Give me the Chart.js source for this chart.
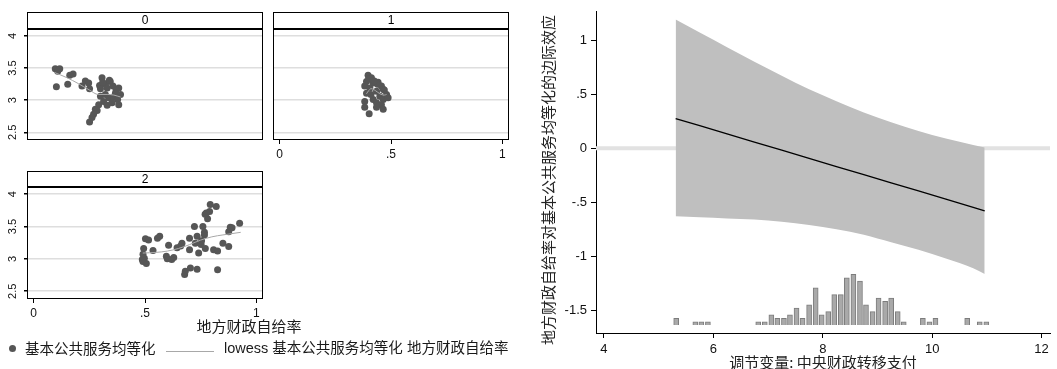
<!DOCTYPE html>
<html>
<head>
<meta charset="utf-8">
<script src="https://cdn.jsdelivr.net/npm/chart.js@4.4.1/dist/chart.umd.min.js"></script>
<style>
  html, body { margin: 0; padding: 0; background: #fff; }
  #wrap { position: relative; width: 1057px; height: 369px; overflow: hidden; }
  canvas { position: absolute; }
  .txt { position: absolute; white-space: nowrap; color: #1a1a1a;
         font-family: "Liberation Sans", "Noto Sans CJK SC", sans-serif; }
</style>
</head>
<body>
<div id="wrap">
  <canvas id="p0" width="268" height="150" style="left:0;top:0"></canvas>
  <canvas id="p1" width="246" height="166" style="left:268px;top:0"></canvas>
  <canvas id="p2" width="268" height="160" style="left:0;top:160px"></canvas>
  <canvas id="me" width="527" height="369" style="left:530px;top:0"></canvas>
</div>
<script>
// ---------- scatter panels: 地方财政自给率 vs 基本公共服务均等化, by group ----------
const panelLabels = ['0', '1', '2'];
const panelYTicks = [2.5, 3, 3.5, 4];
const panelXTicks = [0, 0.5, 1];
const scatterXTitle = '地方财政自给率';
const legendPoint = '基本公共服务均等化';
const legendLowess = 'lowess 基本公共服务均等化 地方财政自给率';

const g0x = [0.097,0.117,0.108,0.102,0.153,0.162,0.177,0.217,0.232,0.247,0.251,0.307,0.296,0.300,0.322,0.344,0.330,0.356,0.382,0.370,
             0.300,0.322,0.337,0.360,0.377,0.382,0.314,0.330,0.292,0.277,0.285,0.269,0.262,0.251,0.352,0.367,0.390,0.110,0.340,0.310];
const g0y = [3.49,3.49,3.45,3.21,3.25,3.39,3.41,3.22,3.30,3.27,3.18,3.35,3.23,3.18,3.25,3.29,3.19,3.22,3.19,3.16,
             3.06,3.09,3.04,3.05,3.01,2.93,2.98,2.92,2.93,2.86,2.84,2.78,2.73,2.66,2.96,3.11,3.09,3.47,3.31,3.28];
const g1x = [0.397,0.412,0.390,0.420,0.442,0.382,0.405,0.457,0.465,0.435,0.390,0.480,0.450,0.420,0.465,0.487,0.382,0.435,0.457,0.382,
             0.465,0.435,0.402,0.440,0.470,0.410,0.400,0.425];
const g1y = [3.39,3.35,3.29,3.27,3.28,3.22,3.19,3.22,3.17,3.14,3.11,3.09,3.06,3.01,3.01,3.04,2.98,2.96,2.93,2.89,
             2.86,2.89,2.79,3.25,3.16,3.09,3.33,3.30];
const g2x = [0.793,0.820,0.790,0.775,0.781,0.770,0.722,0.760,0.767,0.767,0.883,0.925,0.876,0.502,0.516,0.566,0.556,0.494,0.536,0.491,
             0.497,0.491,0.506,0.488,0.606,0.596,0.600,0.629,0.620,0.644,0.666,0.660,0.700,0.734,0.700,0.726,0.752,0.741,0.771,0.754,
             0.808,0.826,0.850,0.876,0.678,0.681,0.704,0.734,0.826,0.891];
const g2y = [3.84,3.81,3.73,3.71,3.62,3.69,3.50,3.50,3.41,3.37,3.49,3.55,3.42,3.31,3.29,3.35,3.32,3.16,3.13,3.07,
             3.01,2.96,2.93,2.99,3.21,3.04,3.00,3.02,2.99,3.17,3.24,3.20,3.32,3.35,3.14,3.24,3.22,3.09,3.16,3.28,
             3.14,3.12,3.24,3.19,2.76,2.81,2.86,2.84,2.83,3.48];

// lowess smooth per group
const l0x = [0.095,0.15,0.20,0.25,0.29,0.33,0.36,0.39];
const l0y = [3.43,3.35,3.26,3.16,3.09,3.09,3.08,3.05];
const l1x = [0.39,0.40,0.41,0.43,0.45,0.47,0.48];
const l1y = [3.10,3.15,3.18,3.15,3.10,3.08,3.09];
const l2x = [0.49,0.55,0.60,0.65,0.70,0.75,0.80,0.85,0.93];
const l2y = [3.09,3.10,3.12,3.16,3.22,3.29,3.34,3.37,3.41];

// ---------- marginal effect of 地方财政自给率 over 中央财政转移支付 ----------
const meYTitle = '地方财政自给率对基本公共服务均等化的边际效应';
const meXTitle = '调节变量: 中央财政转移支付';
const meXTicks = [4, 6, 8, 10, 12];
const meYTicks = [1, 0.5, 0, -0.5, -1, -1.5];
const meX     = [5.31, 5.75, 6.25, 6.75, 7.25, 7.75, 8.25, 8.75, 9.25, 9.75, 10.25, 10.75, 10.96];
const meLine  = [0.274, 0.208, 0.132, 0.057, -0.019, -0.094, -0.170, -0.245, -0.321, -0.396, -0.472, -0.547, -0.579];
const meUpper = [1.19, 1.07, 0.935, 0.80, 0.67, 0.545, 0.435, 0.33, 0.24, 0.16, 0.09, 0.03, 0.006];
const meLower = [-0.63, -0.64, -0.65, -0.66, -0.68, -0.71, -0.75, -0.80, -0.87, -0.94, -1.02, -1.11, -1.165];
// distribution of the moderator (counts per bin)
const histX = [5.32,5.67,5.78,5.90,6.82,6.94,7.06,7.17,7.29,7.40,7.52,7.63,7.75,7.87,7.98,8.10,8.21,
               8.33,8.44,8.56,8.68,8.79,8.91,9.02,9.14,9.25,9.37,9.48,9.83,9.95,10.06,10.64,10.87,10.99];
const histN = [2,1,1,1,1,1,3,2,2,3,5,2,6,11,3,4,9,9,14,15,13,6,4,8,7,8,4,1,2,1,2,2,1,1];

const LATIN = '"Liberation Sans", Arial, sans-serif';
const CJK = '"Noto Sans CJK SC", "Liberation Sans", sans-serif';
const fmt = v => String(+Number(v).toFixed(2)).replace(/^(-?)0\./, '$1.');
const pts = (xs, ys) => xs.map((x, i) => ({ x, y: ys[i] }));

// panel frame + strip header
const panelFrame = {
  id: 'panelFrame',
  afterDraw(chart, args, opts) {
    if (!opts || !opts.label) return;
    const { ctx, chartArea: a } = chart;
    const hTop = a.top - opts.header;
    ctx.save();
    ctx.strokeStyle = '#000';
    ctx.lineWidth = 1;
    ctx.strokeRect(Math.round(a.left) + 0.5, Math.round(hTop) + 0.5,
                   Math.round(a.right - a.left) - 1, Math.round(a.bottom - hTop) - 1);
    ctx.lineWidth = 2;
    ctx.beginPath();
    ctx.moveTo(a.left, Math.round(a.top));
    ctx.lineTo(a.right, Math.round(a.top));
    ctx.stroke();
    ctx.fillStyle = '#000';
    ctx.font = '12px ' + LATIN;
    ctx.textAlign = 'center';
    ctx.textBaseline = 'middle';
    ctx.fillText(opts.label, (a.left + a.right) / 2, hTop + opts.header / 2 + 0.5);
    ctx.restore();
  }
};

function panel(id, idx, px, py, lx, ly, cfg) {
  new Chart(document.getElementById(id), {
    type: 'scatter',
    data: {
      datasets: [
        { data: pts(lx, ly), showLine: true, borderColor: '#a8a8a8', borderWidth: 1,
          pointRadius: 0, cubicInterpolationMode: 'monotone', fill: false },
        { data: pts(px, py), pointRadius: 3.5, pointBackgroundColor: '#565656',
          pointBorderWidth: 0, showLine: false }
      ]
    },
    options: {
      responsive: false, animation: false, devicePixelRatio: 1,
      layout: { padding: { top: cfg.padTop, right: 5, bottom: cfg.padBottom, left: 0 } },
      plugins: { legend: { display: false }, tooltip: { enabled: false },
                 panelFrame: { label: panelLabels[idx], header: cfg.header } },
      scales: {
        x: {
          type: 'linear', min: -0.03, max: 1.03, display: cfg.showX,
          afterBuildTicks: s => { s.ticks = panelXTicks.map(v => ({ value: v })); },
          afterFit: s => { s.height = cfg.xh; },
          ticks: { callback: fmt, font: { size: 12, family: LATIN }, color: '#111', padding: 3,
                   maxRotation: 0, minRotation: 0 },
          grid: { display: true, drawOnChartArea: false, drawTicks: true, tickLength: 4, tickColor: '#000' },
          border: { display: false }
        },
        y: {
          min: 2.38, max: 4.11,
          afterBuildTicks: s => { s.ticks = panelYTicks.map(v => ({ value: v })); },
          afterFit: s => { s.width = cfg.yw; },
          ticks: { display: cfg.showYLabels, minRotation: 90, maxRotation: 90, crossAlign: 'center',
                   padding: 3, font: { size: 11, family: LATIN }, color: '#111', callback: fmt },
          grid: { color: '#dedede', lineWidth: 1.5, drawTicks: cfg.showYLabels, tickLength: 3, tickColor: '#000' },
          border: { display: false }
        }
      }
    },
    plugins: [panelFrame]
  });
}

panel('p0', 0, g0x, g0y, l0x, l0y, { padTop: 29, padBottom: 10, header: 17, showX: false, xh: 0, yw: 27, showYLabels: true });
panel('p1', 1, g1x, g1y, l1x, l1y, { padTop: 29, padBottom: 0, header: 17, showX: true, xh: 26, yw: 5, showYLabels: false });
panel('p2', 2, g2x, g2y, l2x, l2y, { padTop: 27, padBottom: 0, header: 16, showX: true, xh: 21, yw: 27, showYLabels: true });

// reference line at zero, under everything else
const zeroLine = {
  id: 'zeroLine',
  beforeDatasetsDraw(chart) {
    const { ctx, chartArea: a, scales: { y } } = chart;
    const yp = y.getPixelForValue(0);
    ctx.save();
    ctx.strokeStyle = '#e2e2e2';
    ctx.lineWidth = 4;
    ctx.beginPath();
    ctx.moveTo(a.left, yp);
    ctx.lineTo(a.right, yp);
    ctx.stroke();
    ctx.restore();
  }
};

new Chart(document.getElementById('me'), {
  type: 'line',
  data: {
    datasets: [
      { data: pts(meX, meLine), borderColor: '#000', borderWidth: 1.3, pointRadius: 0, fill: false },
      { type: 'bar', data: pts(histX, histN), yAxisID: 'yh', backgroundColor: '#a9a9a9',
        borderColor: '#7c7c7c', borderWidth: 1, barThickness: 5 },
      { data: pts(meX, meUpper), borderColor: 'rgba(0,0,0,0)', borderWidth: 0, pointRadius: 0,
        fill: '+1', backgroundColor: '#bfbfbf', cubicInterpolationMode: 'monotone' },
      { data: pts(meX, meLower), borderColor: 'rgba(0,0,0,0)', borderWidth: 0, pointRadius: 0,
        fill: false, cubicInterpolationMode: 'monotone' }
    ]
  },
  options: {
    responsive: false, animation: false, devicePixelRatio: 1,
    layout: { padding: { top: 8, right: 7, bottom: 0, left: 0 } },
    plugins: { legend: { display: false }, tooltip: { enabled: false } },
    scales: {
      x: {
        type: 'linear', min: 3.854, max: 12.154, offset: false,
        afterBuildTicks: s => { s.ticks = meXTicks.map(v => ({ value: v })); },
        afterFit: s => { s.height = 36; },
        ticks: { callback: fmt, font: { size: 13, family: LATIN }, color: '#111', padding: 4, maxRotation: 0 },
        grid: { display: true, offset: false, drawOnChartArea: false, drawTicks: true, tickLength: 5, tickColor: '#000' },
        border: { display: true, color: '#000', width: 1 },
        title: { display: true, text: meXTitle, font: { size: 15, family: CJK, lineHeight: 0.85 },
                 color: '#222', padding: 0 }
      },
      y: {
        min: -1.71, max: 1.262,
        afterBuildTicks: s => { s.ticks = meYTicks.map(v => ({ value: v })); },
        afterFit: s => { s.width = 66; },
        ticks: { callback: fmt, font: { size: 13, family: LATIN }, color: '#111', padding: 4 },
        grid: { display: true, offset: false, drawOnChartArea: false, drawTicks: true, tickLength: 5, tickColor: '#000' },
        border: { display: true, color: '#000', width: 1 }
      },
      yh: { display: false, min: -2.34, max: 92.7 }
    }
  },
  plugins: [zeroLine]
});

// titles and legend of the panel grid, rotated y title of the marginal effect plot
const wrap = document.getElementById('wrap');
function addText(text, css) {
  const d = document.createElement('div');
  d.className = 'txt';
  d.textContent = text;
  Object.assign(d.style, css);
  wrap.appendChild(d);
  return d;
}
addText(scatterXTitle, { left: '249px', top: '326px', fontSize: '15px', fontFamily: CJK,
  transform: 'translate(-50%,-50%)', lineHeight: '18px' });
addText(meYTitle, { left: '548px', top: '180px', fontSize: '15px', fontFamily: CJK,
  transform: 'translate(-50%,-50%) rotate(-90deg)', lineHeight: '18px', color: '#222' });

const dot = document.createElement('div');
Object.assign(dot.style, { position: 'absolute', left: '8.5px', top: '344.5px', width: '7px', height: '7px',
  borderRadius: '50%', background: '#565656' });
wrap.appendChild(dot);
addText(legendPoint, { left: '25px', top: '339px', fontSize: '14.5px', lineHeight: '18px', fontFamily: CJK });
const lline = document.createElement('div');
Object.assign(lline.style, { position: 'absolute', left: '166px', top: '351px', width: '48px', height: '0',
  borderTop: '1px solid #a8a8a8' });
wrap.appendChild(lline);
addText(legendLowess, { left: '224px', top: '339px', fontSize: '14.5px', lineHeight: '18px' });
</script>
</body>
</html>
